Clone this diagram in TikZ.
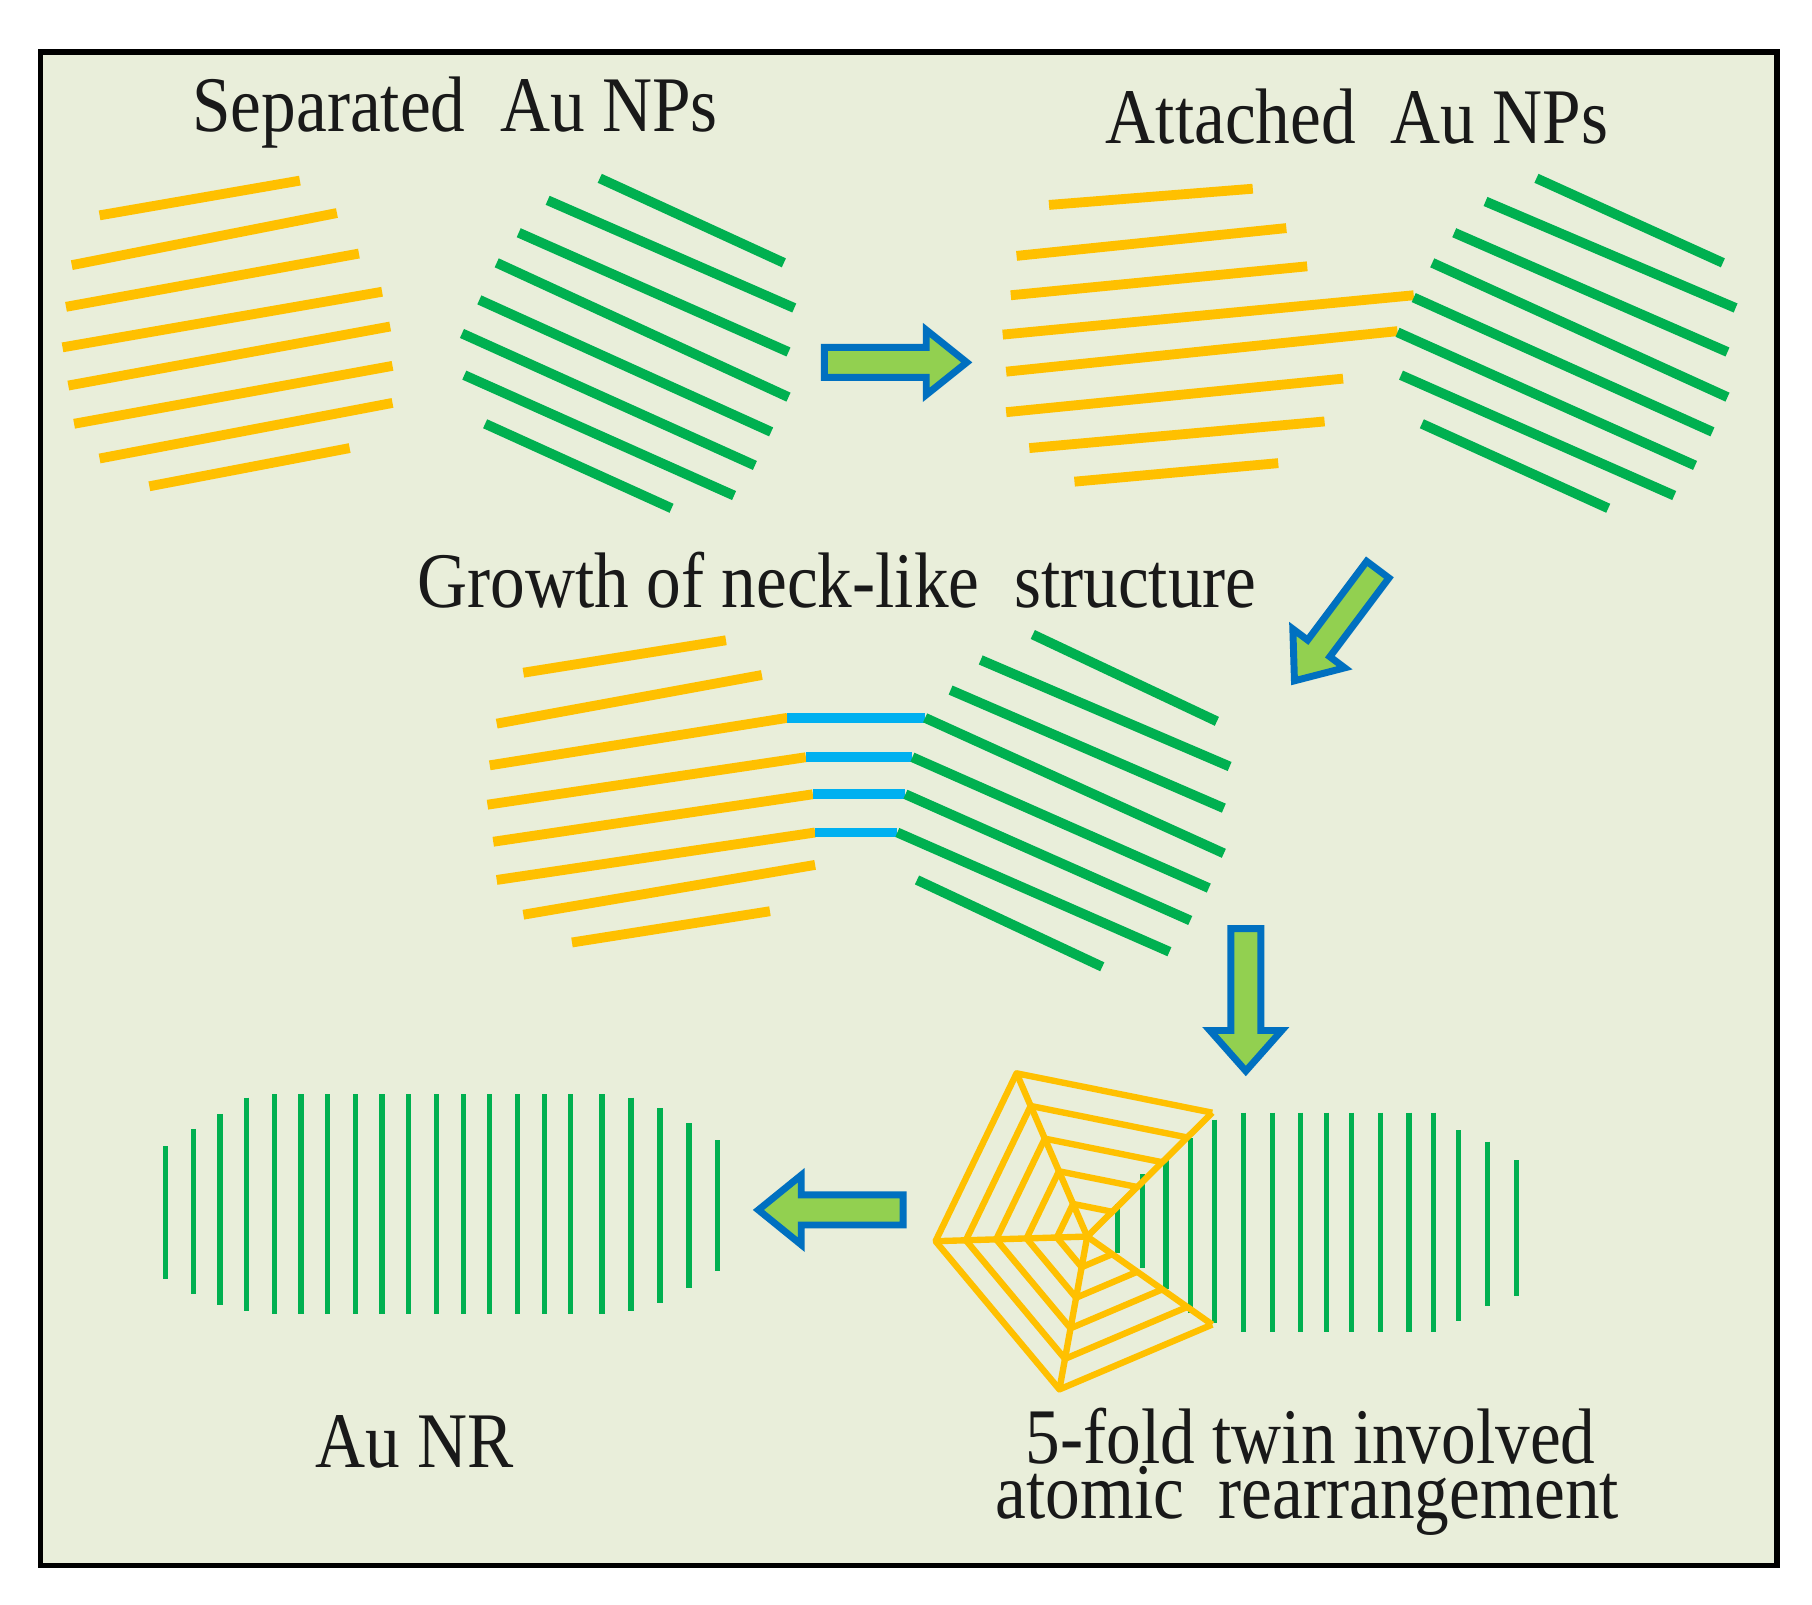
\documentclass[tikz,border=0pt]{standalone}
\usepackage{fontspec}
\setmainfont{Liberation Serif}
\usetikzlibrary{calc}
\definecolor{bg}{HTML}{E9EEDA}
\definecolor{au}{HTML}{FFC000}
\definecolor{gr}{HTML}{00B050}
\definecolor{cy}{HTML}{00B0F0}
\definecolor{ab}{HTML}{0070C0}
\definecolor{af}{HTML}{92D050}
\begin{document}
\begin{tikzpicture}[x=1pt,y=-1pt,
  oline/.style={au,line width=8.5pt},
  gline/.style={gr,line width=8.5pt},
  cline/.style={cy,line width=8.5pt},
  rod/.style={gr,line width=4.5pt},
  twin/.style={au,line width=5.5pt,line join=round},
  arr/.style={draw=ab,fill=af,line width=6pt,line join=miter},
  lab/.style={font=\fontsize{68}{70}\selectfont,text=black!90,inner sep=0pt,xscale=0.88}]
\useasboundingbox (0,0) rectangle (1565,1386);
\draw[fill=bg,line width=5pt] (35,45) rectangle (1535,1352);
% labels
\node[lab] (t1) at (393,97) {Separated\ \ Au NPs};
\node[lab] (t2) at (1172,101) {Attached\ \ Au NPs};
\node[lab] (t3) at (723,501) {Growth of neck-like\ \ structure};
\node[lab] (t4) at (358,1245) {Au NR};
\node[lab] (t5) at (1132,1240) {5-fold twin involved};
\node[lab] (t6) at (1129,1296) {atomic\ \ rearrangement};
% separated
\foreach \a/\b/\c/\d in {86/186/259/156,62/229/291/184,57/265/310/219,54/300/330/252,59/333/337/282,64/366/339/316,86/396/339/348,129/420/302/387}
  \draw[oline] (\a,\b) -- (\c,\d);
\foreach \a/\b/\c/\d in {518/154/677/227,473/173/686/266,448/201/681/304,429/227/681/343,414/259/666/373,399/288/652/402,401/324/634/428,419/366/580/439}
  \draw[gline] (\a,\b) -- (\c,\d);
% attached
\foreach \a/\b/\c/\d in {906/177/1082/163,878/221/1111/197,873/255/1129/230,866/289/1221/255,869/321/1207/286,869/356/1160/327,889/387/1144/364,928/416/1104/400}
  \draw[oline] (\a,\b) -- (\c,\d);
\foreach \a/\b/\c/\d in {1327/154/1488/227,1283/174/1499/266,1256/201/1492/304,1237/227/1492/343,1221/257/1479/373,1207/287/1464/402,1210/324/1446/428,1228/366/1389/439}
  \draw[gline] (\a,\b) -- (\c,\d);
% neck
\foreach \a/\b/\c/\d in {452/581/627/553,429/625/658/583,423/661/680/620,421/695/696/654,426/727/702/686,429/760/704/719,452/790/704/747,494/814/665/787}
  \draw[oline] (\a,\b) -- (\c,\d);
\foreach \a/\b/\c/\d in {680/620/799/620,696/654/788/654,702/686/782/686,704/719/775/719}
  \draw[cline] (\a,\b) -- (\c,\d);
\foreach \a/\b/\c/\d in {892/548/1051/623,847/570/1062/662,821/596/1057/698,799/620/1057/737,788/654/1044/767,782/686/1028/795,775/719/1010/822,792/760/952/835}
  \draw[gline] (\a,\b) -- (\c,\d);
% nanorod
\foreach \x/\t/\b in {143/990/1105,167/975/1118,190/962/1127,213/948/1132,237/945/1135,260/945/1135,283/945/1135,307/945/1135,330/945/1135,353/945/1135,377/945/1135,400/945/1135,423/945/1135,447/945/1135,470/945/1135,493/945/1135,520/945/1135,545/948/1132,570/957/1125,595/970/1112,620/985/1098}
  \draw[rod] (\x,\t) -- (\x,\b);
% twin rod part
\foreach \x/\t/\b in {965/1040/1082,987/1014/1095,1007/999/1113,1028/983/1134,1049/967/1143,1074/961/1150,1099/961/1150,1123/961/1150,1146/961/1150,1167/961/1150,1192/961/1150,1217/961/1150,1238/961/1150,1260/976/1141,1285/986/1128,1310/1002/1119}
  \draw[rod] (\x,\t) -- (\x,\b);
% pentagon twin
\coordinate (c) at (939,1068);
\coordinate (vt) at (878,927);
\coordinate (vr) at (1047,961);
\coordinate (vb) at (1047,1144);
\coordinate (vd) at (915,1200);
\coordinate (vl) at (808,1072);
\foreach \s in {1,0.8,0.6,0.4,0.2}
  \draw[twin] ($(c)!\s!(vr)$) -- ($(c)!\s!(vt)$) -- ($(c)!\s!(vl)$) -- ($(c)!\s!(vd)$) -- ($(c)!\s!(vb)$);
\foreach \v in {vt,vr,vb,vd,vl}
  \draw[twin] (c) -- (\v);
% arrows
\draw[arr] (712,300) -- (800,300) -- (800,285) -- (835,313) -- (800,341) -- (800,326) -- (712,326) -- cycle;
\draw[arr] (1199.6,499.2) -- (1148.6,567.2) -- (1161.4,576.8) -- (1118,588) -- (1116.6,543.2) -- (1129.4,552.8) -- (1180.4,484.8) -- cycle;
\draw[arr] (1063,802) -- (1089,802) -- (1089,890) -- (1107,890) -- (1076,925) -- (1045,890) -- (1063,890) -- cycle;
\draw[arr] (780,1032) -- (780,1058) -- (692,1058) -- (692,1075) -- (655,1045) -- (692,1015) -- (692,1032) -- cycle;
\end{tikzpicture}
\end{document}
